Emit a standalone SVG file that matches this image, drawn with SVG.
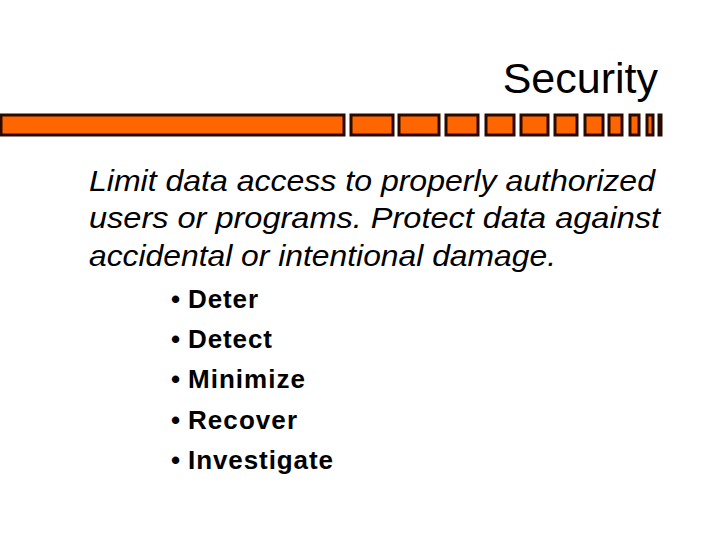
<svg xmlns="http://www.w3.org/2000/svg" width="720" height="540" viewBox="0 0 720 540">
<style>
.b{fill:#ff6600;stroke:#2a0a00;stroke-width:3}
.t{font-family:"Liberation Sans",Arial,sans-serif;fill:#000}
</style>
<rect width="720" height="540" fill="#fff"/>
<g id="title"><text class="t" x="658" y="93" font-size="43" text-anchor="end">Security</text></g>
<g id="bar">
<rect class="b" x="1" y="115" width="343" height="20"/>
<rect class="b" x="351" y="115" width="42" height="20"/>
<rect class="b" x="399" y="115" width="40" height="20"/>
<rect class="b" x="446" y="115" width="32" height="20"/>
<rect class="b" x="486" y="115" width="28" height="20"/>
<rect class="b" x="521" y="115" width="27" height="20"/>
<rect class="b" x="555" y="115" width="22" height="20"/>
<rect class="b" x="585" y="115" width="18" height="20"/>
<rect class="b" x="609" y="115" width="13" height="20"/>
<rect class="b" x="630" y="115" width="9" height="20"/>
<rect class="b" x="647" y="115" width="6" height="20"/>
<rect class="b" x="659" y="115" width="2" height="20"/>
</g>
<g id="body" class="t" font-size="30" font-style="italic">
<text x="89" y="191" textLength="566" lengthAdjust="spacingAndGlyphs">Limit data access to properly authorized</text>
<text x="89" y="228" textLength="571" lengthAdjust="spacingAndGlyphs">users or programs.  Protect data against</text>
<text x="89" y="266" textLength="467" lengthAdjust="spacingAndGlyphs">accidental or intentional damage.</text>
</g>
<g id="list" class="t" font-size="26" font-weight="bold">
<text x="171" y="308">•</text><text x="188" y="308" textLength="70">Deter</text>
<text x="171" y="348">•</text><text x="188" y="348" textLength="84">Detect</text>
<text x="171" y="388">•</text><text x="188" y="388" textLength="117">Minimize</text>
<text x="171" y="429">•</text><text x="188" y="429" textLength="109">Recover</text>
<text x="171" y="469">•</text><text x="188" y="469" textLength="145">Investigate</text>
</g>
</svg>
